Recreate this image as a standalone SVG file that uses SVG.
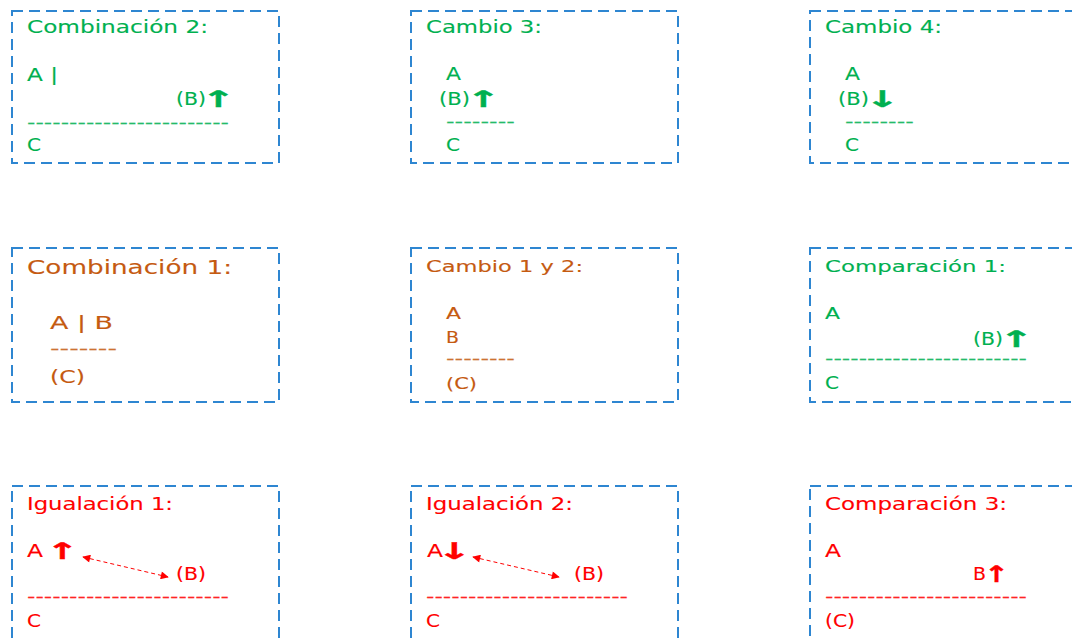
<svg xmlns="http://www.w3.org/2000/svg" width="1072" height="638" viewBox="0 0 1072 638">
<style>
.box{fill:none;stroke:#2E86D1;stroke-width:2;stroke-dasharray:11 6}
text{font-family:"DejaVu Sans","Liberation Sans",sans-serif;font-size:17px;stroke-width:0.12}
.g{fill:#00B050;stroke:#00B050}
.o{fill:#C55A11;stroke:#C55A11}
.r{fill:#FF0000;stroke:#FF0000}
.ar{font-weight:bold;font-size:23px;stroke-width:0.3}
.hy{opacity:0.85}
</style>
<defs>
<marker id="ah" viewBox="0 0 10 10" refX="9" refY="5" markerWidth="9" markerHeight="8" markerUnits="userSpaceOnUse" orient="auto-start-reverse">
<path d="M0,0 L10,5 L0,10 z" fill="#FF0000"/>
</marker>
</defs>
<rect width="1072" height="638" fill="#ffffff"/>
<g id="combinacion2">
<rect class="box" x="12" y="11" width="267" height="152"/>
<text class="g" x="27" y="33" textLength="181" lengthAdjust="spacingAndGlyphs">Combinación 2:</text>
<text class="g" x="27" y="81" textLength="31" lengthAdjust="spacingAndGlyphs">A |</text>
<text class="g" x="176" y="105" textLength="30" lengthAdjust="spacingAndGlyphs">(B)</text>
<text class="g ar" transform="translate(201,106.5) scale(1.8,1)">↑</text>
<text class="g hy" x="27" y="128" textLength="202" lengthAdjust="spacingAndGlyphs">------------------------</text>
<text class="g" x="27" y="151" textLength="14" lengthAdjust="spacingAndGlyphs">C</text>
</g>
<g id="cambio3">
<rect class="box" x="411" y="11" width="267" height="152"/>
<text class="g" x="426" y="33" textLength="116" lengthAdjust="spacingAndGlyphs">Cambio 3:</text>
<text class="g" x="446" y="80" textLength="15" lengthAdjust="spacingAndGlyphs">A</text>
<text class="g" x="439" y="105" textLength="31" lengthAdjust="spacingAndGlyphs">(B)</text>
<text class="g ar" transform="translate(466,106.5) scale(1.8,1)">↑</text>
<text class="g hy" x="446" y="127" textLength="69" lengthAdjust="spacingAndGlyphs">--------</text>
<text class="g" x="446" y="151" textLength="14" lengthAdjust="spacingAndGlyphs">C</text>
</g>
<g id="cambio4">
<rect class="box" x="810" y="11" width="300" height="152"/>
<text class="g" x="825" y="33" textLength="117" lengthAdjust="spacingAndGlyphs">Cambio 4:</text>
<text class="g" x="845" y="80" textLength="15" lengthAdjust="spacingAndGlyphs">A</text>
<text class="g" x="838" y="105" textLength="31" lengthAdjust="spacingAndGlyphs">(B)</text>
<text class="g ar" transform="translate(865,106.5) scale(1.8,1)">↓</text>
<text class="g hy" x="845" y="127" textLength="69" lengthAdjust="spacingAndGlyphs">--------</text>
<text class="g" x="845" y="151" textLength="14" lengthAdjust="spacingAndGlyphs">C</text>
</g>
<g id="combinacion1">
<rect class="box" x="12" y="248" width="267" height="154"/>
<text class="o" x="27" y="274" style="font-size:19px" textLength="205" lengthAdjust="spacingAndGlyphs">Combinación 1:</text>
<text class="o" x="50" y="329" style="font-size:18px" textLength="63" lengthAdjust="spacingAndGlyphs">A | B</text>
<text class="o hy" x="50" y="354" textLength="67" lengthAdjust="spacingAndGlyphs">-------</text>
<text class="o" x="50" y="383" style="font-size:18px" textLength="35" lengthAdjust="spacingAndGlyphs">(C)</text>
</g>
<g id="cambio12">
<rect class="box" x="411" y="248" width="267" height="154"/>
<text class="o" x="426" y="272" style="font-size:16.5px" textLength="157" lengthAdjust="spacingAndGlyphs">Cambio 1 y 2:</text>
<text class="o" x="446" y="319" style="font-size:16.5px" textLength="15" lengthAdjust="spacingAndGlyphs">A</text>
<text class="o" x="446" y="343" style="font-size:16.5px" textLength="13" lengthAdjust="spacingAndGlyphs">B</text>
<text class="o hy" x="446" y="364" textLength="69" lengthAdjust="spacingAndGlyphs">--------</text>
<text class="o" x="446" y="389" style="font-size:16.5px" textLength="31" lengthAdjust="spacingAndGlyphs">(C)</text>
</g>
<g id="comparacion1">
<rect class="box" x="810" y="248" width="300" height="154"/>
<text class="g" x="825" y="272" style="font-size:16.5px" textLength="181" lengthAdjust="spacingAndGlyphs">Comparación 1:</text>
<text class="g" x="825" y="319" style="font-size:16.5px" textLength="15" lengthAdjust="spacingAndGlyphs">A</text>
<text class="g" x="973" y="345" textLength="30" lengthAdjust="spacingAndGlyphs">(B)</text>
<text class="g ar" transform="translate(999,346.5) scale(1.8,1)">↑</text>
<text class="g hy" x="825" y="364" textLength="202" lengthAdjust="spacingAndGlyphs">------------------------</text>
<text class="g" x="825" y="389" textLength="14" lengthAdjust="spacingAndGlyphs">C</text>
</g>
<g id="igualacion1">
<rect class="box" x="12" y="486" width="267" height="200"/>
<text class="r" x="27" y="510" textLength="146" lengthAdjust="spacingAndGlyphs">Igualación 1:</text>
<text class="r" x="27" y="557" textLength="16" lengthAdjust="spacingAndGlyphs">A</text>
<text class="r ar" transform="translate(46,558.5) scale(1.7,1)">↑</text>
<text class="r" x="176" y="580" textLength="30" lengthAdjust="spacingAndGlyphs">(B)</text>
<text class="r hy" x="27" y="602" textLength="202" lengthAdjust="spacingAndGlyphs">------------------------</text>
<text class="r" x="27" y="627" textLength="14" lengthAdjust="spacingAndGlyphs">C</text>
</g>
<g id="igualacion2">
<rect class="box" x="411" y="486" width="267" height="200"/>
<text class="r" x="426" y="510" textLength="147" lengthAdjust="spacingAndGlyphs">Igualación 2:</text>
<text class="r" x="427" y="557" textLength="16" lengthAdjust="spacingAndGlyphs">A</text>
<text class="r ar" transform="translate(437,558.5) scale(1.8,1)">↓</text>
<text class="r" x="574" y="580" textLength="30" lengthAdjust="spacingAndGlyphs">(B)</text>
<text class="r hy" x="426" y="602" textLength="202" lengthAdjust="spacingAndGlyphs">------------------------</text>
<text class="r" x="426" y="627" textLength="14" lengthAdjust="spacingAndGlyphs">C</text>
</g>
<g id="comparacion3">
<rect class="box" x="810" y="486" width="300" height="200"/>
<text class="r" x="825" y="510" textLength="182" lengthAdjust="spacingAndGlyphs">Comparación 3:</text>
<text class="r" x="825" y="557" textLength="16" lengthAdjust="spacingAndGlyphs">A</text>
<text class="r" x="973" y="580" textLength="13" lengthAdjust="spacingAndGlyphs">B</text>
<text class="r ar" transform="translate(984,581.5) scale(1.3,1)">↑</text>
<text class="r hy" x="825" y="602" textLength="202" lengthAdjust="spacingAndGlyphs">------------------------</text>
<text class="r" x="825" y="627" textLength="30" lengthAdjust="spacingAndGlyphs">(C)</text>
</g>
<g id="connectors" fill="none" stroke="#FF0000" stroke-width="1" stroke-dasharray="4 3">
<line x1="83" y1="557" x2="168" y2="577" marker-start="url(#ah)" marker-end="url(#ah)"/>
<line x1="473" y1="557" x2="559" y2="577" marker-start="url(#ah)" marker-end="url(#ah)"/>
</g>
</svg>
